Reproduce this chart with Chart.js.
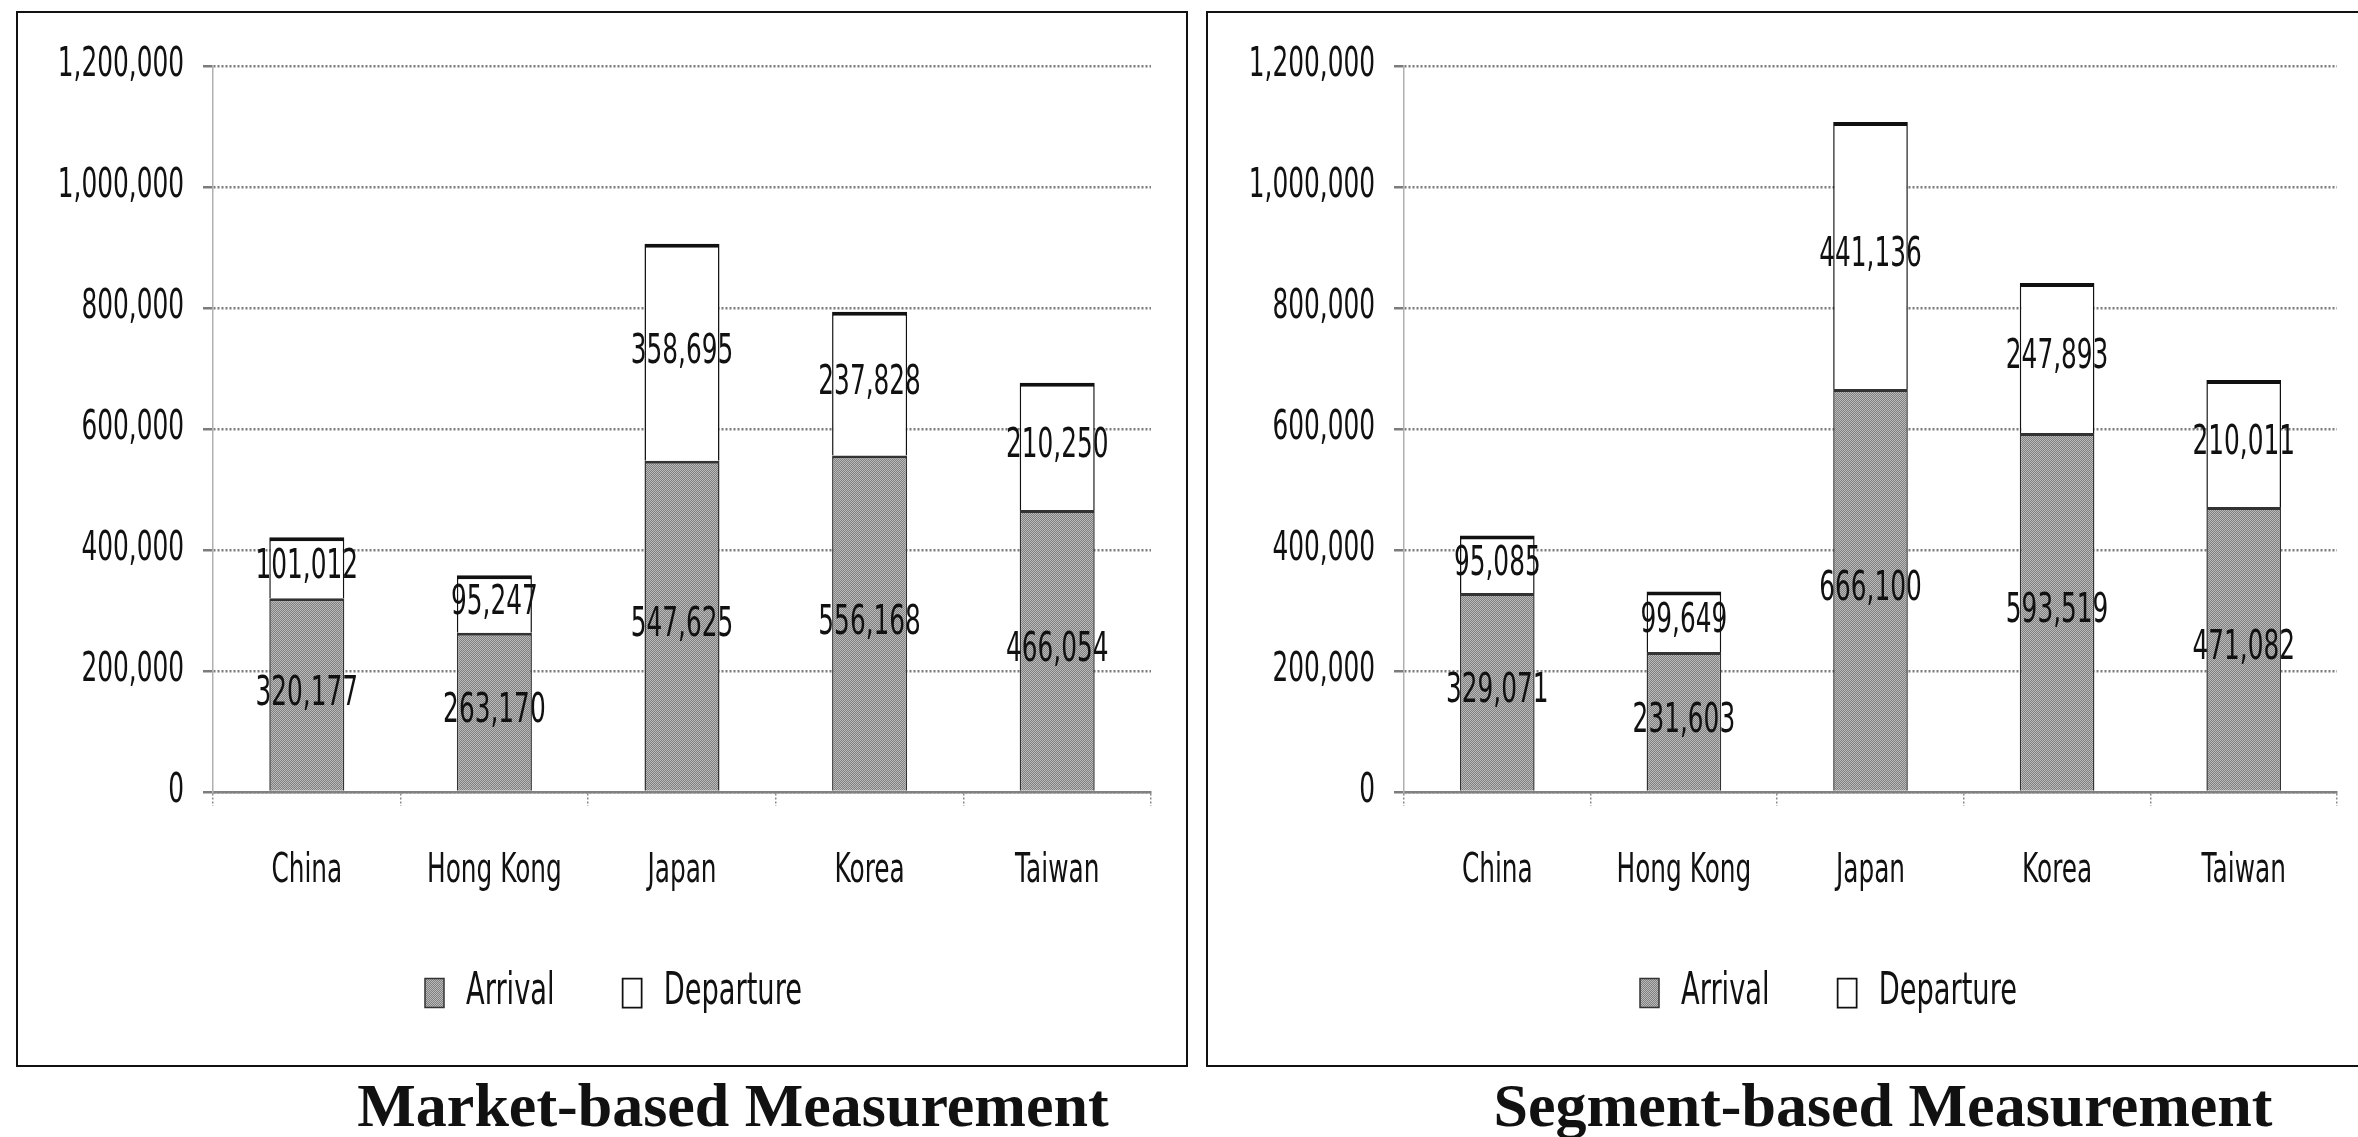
<!DOCTYPE html>
<html>
<head>
<meta charset="utf-8">
<script src="https://cdn.jsdelivr.net/npm/chart.js@4.4.1/dist/chart.umd.min.js"></script>
<style>
  html, body { margin: 0; padding: 0; background: #fff; width: 2358px; height: 1137px; overflow: hidden; position: relative; }
  .panel { position: absolute; top: 11px; width: 1172px; height: 1056px; border: 2px solid #111; box-sizing: border-box; background: #fff; }
  .panel canvas { display: block; }
  .caption { position: absolute; top: 1074px; transform: translateX(-50%); white-space: nowrap;
    font-family: 'Liberation Serif', 'Times New Roman', serif; font-weight: bold; font-size: 62px; line-height: 62px; color: #111; }
</style>
</head>
<body>
<div class="panel" style="left:16px"><canvas id="market"></canvas></div>
<div class="panel" style="left:1206px"><canvas id="segment"></canvas></div>
<div class="caption" style="left:733px">Market-based Measurement</div>
<div class="caption" style="left:1883px">Segment-based Measurement</div>

<script>
// categories and tick labels
const countries = ['China', 'Hong Kong', 'Japan', 'Korea', 'Taiwan'];
const seriesNames = ['Arrival', 'Departure'];
const yTicks = [0, 200000, 400000, 600000, 800000, 1000000, 1200000];

// market-based values
const marketArrival = [320177, 263170, 547625, 556168, 466054];
const marketDeparture = [101012, 95247, 358695, 237828, 210250];

// segment-based values
const segmentArrival = [329071, 231603, 666100, 593519, 471082];
const segmentDeparture = [95085, 99649, 441136, 247893, 210011];

const FONT = "'DejaVu Sans', sans-serif";
const SQUEEZE = 0.62; // the scanned labels are tall and narrow
const INK = '#111111';

// fine grey hatch like the printed arrival bars
const makeHatch = () => {
  const c = document.createElement('canvas');
  c.width = 2; c.height = 2;
  const g = c.getContext('2d');
  g.fillStyle = '#bababa';
  g.fillRect(0, 0, 2, 2);
  g.fillStyle = '#808080';
  g.fillRect(0, 0, 1, 1);
  g.fillRect(1, 1, 1, 1);
  return g.createPattern(c, 'repeat');
};

// squeeze all text drawn on a context horizontally
const condense = (ctx, sx) => {
  const fill = ctx.fillText.bind(ctx);
  const measure = ctx.measureText.bind(ctx);
  ctx.fillText = (text, x, y, maxWidth) => {
    ctx.save();
    ctx.translate(x, y);
    ctx.scale(sx, 1);
    if (maxWidth === undefined) fill(text, 0, 0);
    else fill(text, 0, 0, maxWidth / sx);
    ctx.restore();
  };
  ctx.measureText = (text) => {
    const m = measure(text);
    return {
      width: m.width * sx,
      actualBoundingBoxAscent: m.actualBoundingBoxAscent,
      actualBoundingBoxDescent: m.actualBoundingBoxDescent,
      actualBoundingBoxLeft: m.actualBoundingBoxLeft * sx,
      actualBoundingBoxRight: m.actualBoundingBoxRight * sx
    };
  };
};

const fmt = (v) => v.toLocaleString('en-US');

// value labels in the middle of every bar segment
const segmentLabels = {
  id: 'segmentLabels',
  afterDatasetsDraw(chart) {
    const ctx = chart.ctx;
    ctx.save();
    ctx.font = `40px ${FONT}`;
    ctx.fillStyle = INK;
    ctx.textAlign = 'center';
    ctx.textBaseline = 'middle';
    chart.data.datasets.forEach((ds, i) => {
      chart.getDatasetMeta(i).data.forEach((bar, j) => {
        const p = bar.getProps(['x', 'y', 'base'], true);
        ctx.fillText(fmt(ds.data[j]), p.x, (p.y + p.base) / 2);
      });
    });
    ctx.restore();
  }
};

// put the legend where it sits in the scan
const legendPlace = {
  id: 'legendPlace',
  afterLayout(chart, args, opts) {
    const lg = chart.legend;
    lg.left = opts.x - lg.options.labels.padding;
  }
};

const createChart = (id, arrival, departure, legendX, padRight) => {
  const canvas = document.getElementById(id);
  canvas.width = 1168;
  canvas.height = 1052;
  const ctx = canvas.getContext('2d');
  condense(ctx, SQUEEZE);
  const hatch = makeHatch();

  return new Chart(ctx, {
    type: 'bar',
    data: {
      labels: countries,
      datasets: [
        {
          label: seriesNames[0],
          data: arrival,
          backgroundColor: hatch,
          borderColor: '#333333',
          borderWidth: { top: 3, left: 1.5, right: 1.5, bottom: 0 },
          borderSkipped: false,
          barPercentage: 0.4,
          categoryPercentage: 1
        },
        {
          label: seriesNames[1],
          data: departure,
          backgroundColor: '#ffffff',
          borderColor: '#111111',
          borderWidth: { top: 4, left: 1.5, right: 1.5, bottom: 0 },
          borderSkipped: false,
          barPercentage: 0.4,
          categoryPercentage: 1
        }
      ]
    },
    options: {
      responsive: false,
      animation: false,
      devicePixelRatio: 1,
      layout: { padding: { top: 53, left: 0, right: padRight, bottom: 40 } },
      scales: {
        x: {
          stacked: true,
          afterFit: (axis) => { axis.height = 111; },
          grid: {
            offset: true,
            drawOnChartArea: false,
            drawTicks: true,
            tickLength: 14,
            tickColor: '#8a8a8a',
            tickBorderDash: [2, 2],
            lineWidth: 1.5
          },
          border: { display: true, color: '#808080', width: 2.5 },
          ticks: { color: INK, padding: 42, font: { family: FONT, size: 40 } }
        },
        y: {
          stacked: true,
          min: yTicks[0],
          max: yTicks[yTicks.length - 1],
          afterFit: (axis) => { axis.width = id === 'segment' ? 196 : 195; },
          afterBuildTicks: (axis) => { axis.ticks = yTicks.map(v => ({ value: v })); },
          grid: { color: '#7c7c7c', lineWidth: 2.5, tickLength: 10, tickColor: '#7c7c7c' },
          border: { display: true, color: '#b0b0b0', width: 1.5, dash: [2, 2] },
          ticks: {
            color: INK,
            padding: 19,
            font: { family: FONT, size: 40 },
            callback: (v) => fmt(v)
          }
        }
      },
      plugins: {
        legend: {
          position: 'bottom',
          align: 'start',
          labels: {
            color: INK,
            boxWidth: 19,
            boxHeight: 29,
            padding: 68,
            font: { family: FONT, size: 44 }
          }
        },
        legendPlace: { x: legendX },
        tooltip: { enabled: false }
      }
    },
    plugins: [segmentLabels, legendPlace]
  });
};

createChart('market', marketArrival, marketDeparture, 407, 35);
createChart('segment', segmentArrival, segmentDeparture, 432, 39);
</script>
</body>
</html>
